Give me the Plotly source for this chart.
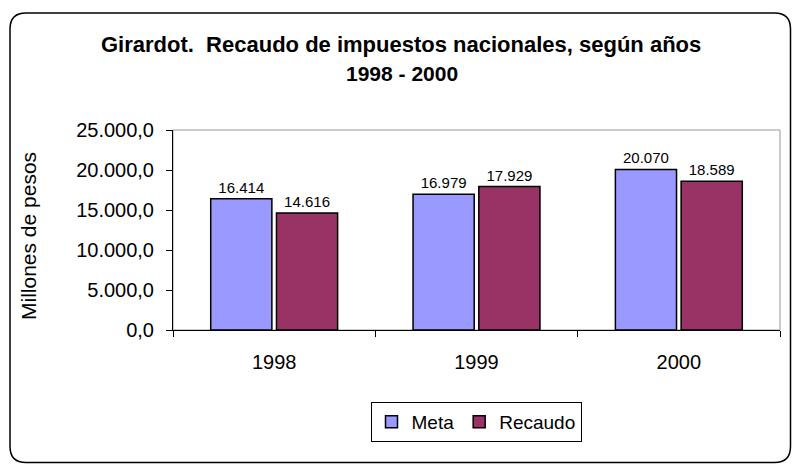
import plotly.graph_objects as go

years = ["1998", "1999", "2000"]
meta = [16414, 16979, 20070]
recaudo = [14616, 17929, 18589]
y_ticks = [0, 5000, 10000, 15000, 20000, 25000]
y_tick_labels = ["0,0", "5.000,0", "10.000,0", "15.000,0", "20.000,0", "25.000,0"]

FONT = "Liberation Sans, Arial, sans-serif"


def fmt(v):
    return f"{v:,.0f}".replace(",", ".")


fig = go.Figure()
fig.add_trace(go.Bar(
    name="Meta", x=years, y=meta,
    marker=dict(color="#9999FF", line=dict(color="#000000", width=1.5)),
    text=[fmt(v) for v in meta], textposition="outside", constraintext="none",
    textfont=dict(size=15, color="#000000", family=FONT), cliponaxis=False,
))
fig.add_trace(go.Bar(
    name="Recaudo", x=years, y=recaudo,
    marker=dict(color="#993366", line=dict(color="#000000", width=1.5)),
    text=[fmt(v) for v in recaudo], textposition="outside", constraintext="none",
    textfont=dict(size=15, color="#000000", family=FONT), cliponaxis=False,
))

L, R, T, B = 173, 12, 130, 134
W, H = 792, 464
pw, ph = W - L - R, H - T - B


def px_x(x):
    return (x - L) / pw


def px_y(y):
    return 1 - (y - T) / ph


# outer rounded border
x0, x1 = px_x(10), px_x(790.5)
y0, y1 = px_y(462.5), px_y(13)
rx, ry = 16 / pw, 16 / ph
path = (f"M {x0+rx},{y1} L {x1-rx},{y1} Q {x1},{y1} {x1},{y1-ry} "
        f"L {x1},{y0+ry} Q {x1},{y0} {x1-rx},{y0} L {x0+rx},{y0} "
        f"Q {x0},{y0} {x0},{y0+ry} L {x0},{y1-ry} Q {x0},{y1} {x0+rx},{y1} Z")

fig.update_layout(
    width=W, height=H,
    margin=dict(l=L, r=R, t=T, b=B),
    paper_bgcolor="white", plot_bgcolor="white",
    font=dict(family=FONT, color="#000000"),
    bargap=0.35, bargroupgap=0.07,
    showlegend=True,
    legend=dict(
        orientation="h", x=px_x(476), y=px_y(402), xanchor="center", yanchor="top",
        bordercolor="#000000", borderwidth=1, font=dict(size=19, family=FONT),
        itemwidth=30, tracegroupgap=0,
    ),
    shapes=[
        dict(type="rect", xref="paper", yref="paper", x0=0, x1=1, y0=0, y1=1,
             line=dict(color="#999999", width=1), layer="below"),
        dict(type="path", xref="paper", yref="paper", path=path,
             line=dict(color="#000000", width=1.5)),
    ],
    annotations=[
        dict(text="<b>Girardot.  Recaudo de impuestos nacionales, según años</b>",
             xref="paper", yref="paper", x=px_x(401), y=px_y(45),
             xanchor="center", yanchor="middle", showarrow=False,
             font=dict(size=22, family=FONT)),
        dict(text="<b>1998 - 2000</b>",
             xref="paper", yref="paper", x=px_x(402), y=px_y(73),
             xanchor="center", yanchor="middle", showarrow=False,
             font=dict(size=21, family=FONT)),
        dict(text="Millones de pesos", textangle=-90,
             xref="paper", yref="paper", x=px_x(28), y=px_y(236),
             xanchor="center", yanchor="middle", showarrow=False,
             font=dict(size=21, family=FONT)),
    ],
)

fig.update_xaxes(
    type="category", showline=True, linecolor="#000000", linewidth=1,
    ticks="outside", ticklen=6, tickcolor="#000000", tickson="boundaries",
    tickfont=dict(size=20, family=FONT), ticklabelstandoff=14,
    showgrid=False, zeroline=False,
)
fig.update_yaxes(
    range=[0, 25000], tickvals=y_ticks, ticktext=y_tick_labels,
    showline=True, linecolor="#000000", linewidth=1,
    ticks="outside", ticklen=6, tickcolor="#000000",
    tickfont=dict(size=20, family=FONT), ticklabelstandoff=8,
    showgrid=False, zeroline=False,
)

fig.write_html("out.html", config={"displayModeBar": False},
               post_script="document.body.style.margin='0';")
